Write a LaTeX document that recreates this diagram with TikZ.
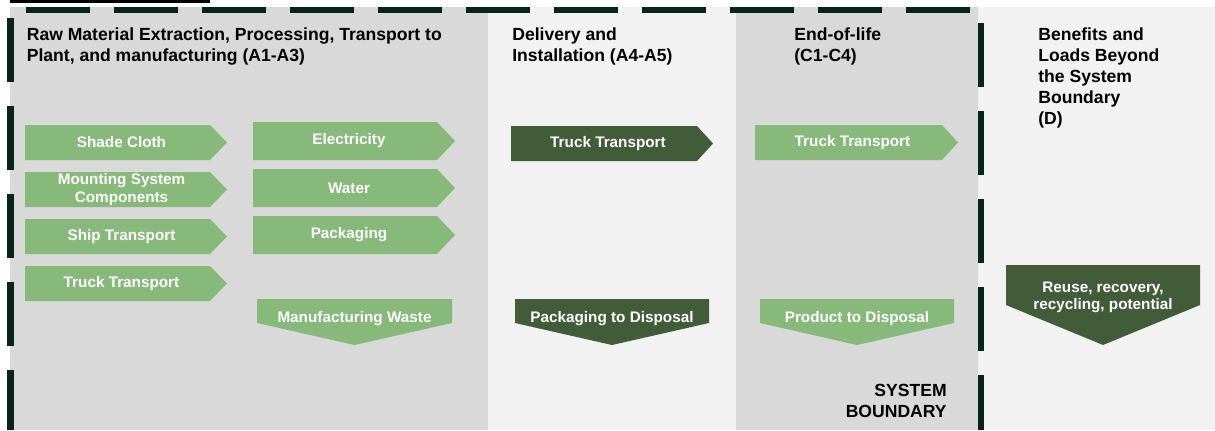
\documentclass[tikz,border=0pt]{standalone}
\usepackage{fontspec}
\setmainfont{Liberation Sans}
\usepackage{tikz}

\definecolor{stagegray}{RGB}{217,217,217}
\definecolor{stagepale}{RGB}{242,242,242}
\definecolor{flowlight}{RGB}{134,185,122}
\definecolor{flowdark}{RGB}{66,92,58}
\definecolor{bounddark}{RGB}{8,36,29}

\begin{document}
\begin{tikzpicture}[x=0.02cm,y=-0.02cm,
  stagetitle/.style={anchor=north west,inner sep=0pt,align=left,font=\bfseries\fontsize{10}{12}\selectfont},
  flowtext/.style={inner sep=0pt,align=center,text=white,font=\bfseries\fontsize{8.7}{10}\selectfont},
  boundary/.style={bounddark,line width=3.7pt,dash pattern=on 1.28cm off 0.48cm}]
\useasboundingbox (0,0) rectangle (1215,430);
% Life cycle stages
\fill[stagegray] (10,7) rectangle (488,430);
\fill[stagepale] (488,7) rectangle (736,430);
\fill[stagegray] (736,7) rectangle (978,430);
\fill[stagepale] (978,7) rectangle (1215,430);
\fill[black] (10,0) rectangle (210,3);
% System boundary (dashed)
\draw[boundary] (26,10) -- (978,10);
\draw[boundary] (10.5,18) -- (10.5,430);
\draw[boundary] (981,23) -- (981,430);
% Stage titles
\node[stagetitle] (stageA) at (26.5,27) {Raw Material Extraction, Processing, Transport to\\Plant, and manufacturing (A1-A3)};
\node[stagetitle] (stageB) at (512,27) {Delivery and\\Installation (A4-A5)};
\node[stagetitle] (stageC) at (794,27) {End-of-life\\(C1-C4)};
\node[stagetitle] (stageD) at (1038,27) {Benefits and\\Loads Beyond\\the System\\Boundary\\(D)};
% Inputs A1-A3, first column
\foreach \i/\name/\txt in {0/shade/Shade Cloth,1/mount/{Mounting System\\Components},2/ship/Ship Transport,3/truckA/Truck Transport} {
  \fill[flowlight] (25,125+47*\i) -- (210,125+47*\i) -- (227,142.5+47*\i) -- (210,160+47*\i) -- (25,160+47*\i) -- cycle;
  \node[flowtext] (\name) at (121.5,142.5+47*\i) {\txt};
}
% Inputs A1-A3, second column
\foreach \i/\name/\txt in {0/elec/Electricity,1/water/Water,2/pack/Packaging} {
  \fill[flowlight] (253,122+47*\i) -- (437,122+47*\i) -- (455,141+47*\i) -- (437,160+47*\i) -- (253,160+47*\i) -- cycle;
  \node[flowtext] (\name) at (349,141+47*\i) {\txt};
}
% Transport A4-A5 and C1-C4
\fill[flowdark] (511,126) -- (697,126) -- (713,143.5) -- (697,161) -- (511,161) -- cycle;
\node[flowtext] (truckB) at (608,143.5) {Truck Transport};
\fill[flowlight] (755,125) -- (942,125) -- (958,142.5) -- (942,160) -- (755,160) -- cycle;
\node[flowtext] (truckC) at (852.5,142.5) {Truck Transport};
% Outputs (down arrows)
\foreach \xa/\xb/\col/\name/\txt in {257/452/flowlight/waste/Manufacturing Waste,515/709/flowdark/packdisp/Packaging to Disposal,760/954/flowlight/proddisp/Product to Disposal} {
  \fill[\col] (\xa,299) -- (\xb,299) -- (\xb,323) -- ({(\xa+\xb)/2},345) -- (\xa,323) -- cycle;
  \node[flowtext] (\name) at ({(\xa+\xb)/2},319) {\txt};
}
\fill[flowdark] (1006,265) -- (1200,265) -- (1200,305) -- (1103,345) -- (1006,305) -- cycle;
\node[flowtext] (reuse) at (1103,297.5) {Reuse, recovery,\\recycling, potential};
% Boundary label
\node[anchor=north east,inner sep=0pt,align=right,font=\bfseries\fontsize{10}{12}\selectfont] (sysbound) at (947,384) {SYSTEM\\BOUNDARY};
\end{tikzpicture}
\end{document}
